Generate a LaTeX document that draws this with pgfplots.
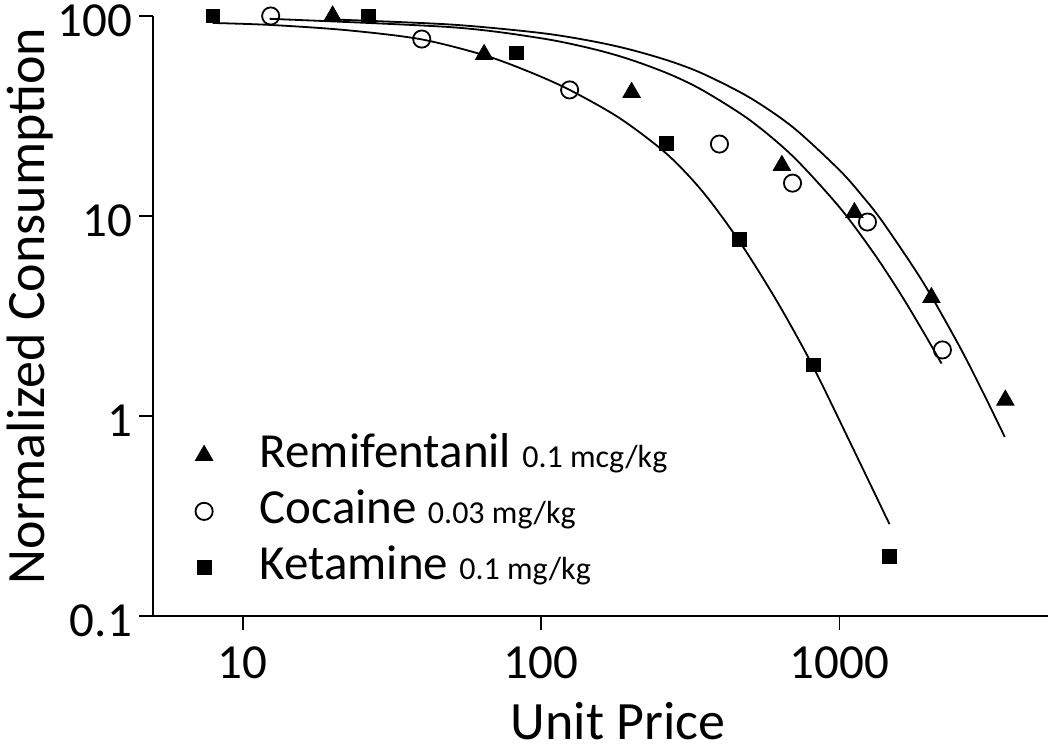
\documentclass[border=0pt]{standalone}
\usepackage{pgfplots}
\pgfplotsset{compat=1.18}
\usepackage{fontspec}
\setmainfont{Carlito}

\begin{document}
\begin{tikzpicture}
\useasboundingbox (-76.5pt,-67.5pt) rectangle (448.5pt,308pt);
\begin{axis}[
  at={(0pt,0pt)}, anchor=south west,
  scale only axis, width=447.5pt, height=300pt,
  xmode=log, ymode=log,
  xmin=5, xmax=5000, ymin=0.1, ymax=100,
  axis x line*=bottom, axis y line*=left,
  axis line style={line width=1pt, -},
  xtick={10,100,1000}, xticklabels={10,100,1000},
  ytick={0.1,1,10,100}, yticklabels={0.1,1,10,100},
  xminorticks=false, yminorticks=false,
  tick align=outside, major tick length=7pt,
  tick style={line width=0.9pt, black},
  ticklabel style={font=\fontsize{24.5}{29}\selectfont},
  xticklabel style={yshift=-5pt},
  yticklabel style={yshift=-2.2pt},
  xlabel={Unit Price}, ylabel={Normalized Consumption},
  label style={font=\fontsize{27}{32}\selectfont},
  xlabel style={at={(axis description cs:0.5196,-0.205)}, anchor=base, inner sep=0pt},
  ylabel style={at={(axis description cs:-0.1207,0.5167)}, anchor=base},
  legend style={draw=none, fill=none, at={(axis description cs:0.0403,0.3117)}, anchor=north west,
    font=\fontsize{24.5}{29}\selectfont, row sep=6pt, column sep=23.5pt,
    nodes={inner sep=0pt, text height=17pt, text depth=5pt}},
  legend cell align=left,
  clip=false,
]
% fitted curves
\addplot[no marks, smooth, line width=0.9pt, black, forget plot] coordinates {
(20,96.1) (50,90.6) (100,82.2) (150,74.6) (200,67.8) (270,59.5) (350,51.3) (500,39.1) (700,27.7)
(1000,16.96) (1200,12.46) (1400,9.28) (1900,4.70) (2500,2.29) (3000,1.35) (3582,0.785)};
\addplot[no marks, smooth, line width=0.9pt, black, forget plot] coordinates {
(12.3,96.8) (50,87.9) (100,77.4) (150,68.3) (200,60.4) (270,51.1) (350,42.3) (500,30.2) (700,19.8)
(1000,11.06) (1300,6.55) (1600,4.09) (1900,2.67) (2198,1.83)};
\addplot[no marks, smooth, line width=0.9pt, black, forget plot] coordinates {
(7.93,92.3) (12.4,90.2) (21.97,85.1) (39.2,76.7) (64.2,63.8) (91.5,52.5) (124.6,42.7) (183,30.9)
(263,20.5) (347.5,13.26) (462,7.46) (615,3.78) (812,1.79) (1096,0.716) (1471,0.288)};
% data
\addplot[only marks, mark=triangle*, mark size=5pt, black] coordinates {
(20.0,100) (64.4,64.2) (201,41.5) (641,17.9) (1122,10.4) (2033,3.91) (3597,1.20)};
\addlegendentry{Remifentanil {\fontsize{16}{19}\selectfont 0.1 mcg/kg}}
\addplot[only marks, mark=o, mark size=4.3pt, black, mark options={line width=0.9pt}] coordinates {
(12.4,100) (39.8,76.7) (124.6,42.7) (396,22.9) (696,14.6) (1241,9.33) (2213,2.14)};
\addlegendentry{Cocaine {\fontsize{16}{19}\selectfont 0.03 mg/kg}}
\addplot[only marks, mark=square*, mark size=3.4pt, black] coordinates {
(7.93,100) (26.4,100) (82.8,65.3) (263,23.0) (462,7.63) (818,1.80) (1469,0.198)};
\addlegendentry{Ketamine {\fontsize{16}{19}\selectfont 0.1 mg/kg}}
\end{axis}
\end{tikzpicture}
\end{document}
